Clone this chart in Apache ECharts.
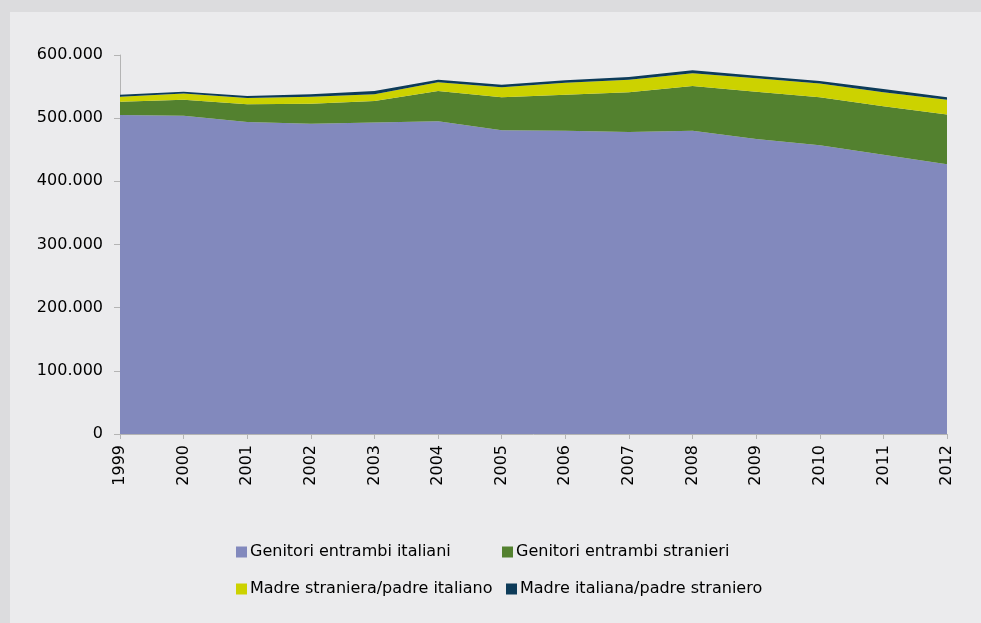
<!DOCTYPE html>
<html>
<head>
<meta charset="utf-8">
<script src="https://cdn.jsdelivr.net/npm/echarts@6/dist/echarts.min.js"></script>
<style>
html,body{margin:0;padding:0;background:#dcdcde;width:981px;height:623px;overflow:hidden;}
#panel{position:absolute;left:10px;top:12px;width:971px;height:611px;background:#ebebed;}
#chart{position:absolute;left:0;top:0;width:981px;height:623px;}
</style>
</head>
<body>
<div id="panel"></div>
<div id="chart"></div>
<script>
const years = ['1999','2000','2001','2002','2003','2004','2005','2006','2007','2008','2009','2010','2011','2012'];
const entrambiItaliani = [505000,504000,494000,491000,493000,495000,481000,480000,478000,480000,467000,457000,442000,427000];
const entrambiStranieri = [21000,25000,28000,32000,34000,48000,52000,57000,63000,71000,75000,76000,77000,79000];
const madreStraniera = [8000,10000,10000,11000,11000,14000,16000,19000,20000,20000,21000,22000,22000,23000];
const madreItaliana = [3000,3000,3000,4000,5000,4000,4000,4000,4000,5000,4000,4000,5000,4000];
const yTicks = [0,100000,200000,300000,400000,500000,600000];

const names = ['Genitori entrambi italiani','Genitori entrambi stranieri','Madre straniera/padre italiano','Madre italiana/padre straniero'];
const colors = ['#8289bd','#53812f','#ccd200','#0d3b59'];
const datas = [entrambiItaliani, entrambiStranieri, madreStraniera, madreItaliana];

function fmt(v){ return String(v).replace(/\B(?=(\d{3})+(?!\d))/g,'.'); }

const font = '"DejaVu Sans", "Liberation Sans", Arial, sans-serif';
const legendPos = [[236,544],[502,544],[236,581],[506,581]];

const chart = echarts.init(document.getElementById('chart'), null, {renderer:'canvas'});
chart.setOption({
  backgroundColor: 'transparent',
  animation: false,
  textStyle: {fontFamily: font},
  grid: {left:120, right:34, top:55, bottom:189, containLabel:false},
  legend: names.map((n,i) => ({
    data:[n], left:legendPos[i][0], top:legendPos[i][1], padding:0,
    itemWidth:11, itemHeight:11, icon:'rect',
    textStyle:{fontSize:16, color:'#000', fontFamily:font, padding:[0,0,0,-2]}
  })),
  xAxis: {
    type:'category', data: years, boundaryGap:false,
    axisLine:{show:true, lineStyle:{color:'#b4b4b4', width:1}},
    axisTick:{show:true, alignWithLabel:true, length:5, lineStyle:{color:'#b4b4b4'}},
    axisLabel:{rotate:90, fontSize:16, color:'#000', margin:11, fontFamily:font, interval:0}
  },
  yAxis: {
    type:'value', min:0, max:600000, interval:100000,
    splitLine:{show:false},
    axisLine:{show:true, lineStyle:{color:'#b4b4b4', width:1}},
    axisTick:{show:true, length:6, lineStyle:{color:'#b4b4b4'}},
    axisLabel:{fontSize:16, color:'#000', margin:17, fontFamily:font, formatter: v => yTicks.indexOf(v) >= 0 ? fmt(v) : ''}
  },
  series: datas.map((d,i) => ({
    name: names[i], type:'line', stack:'tot', data:d,
    showSymbol:false, symbol:'none',
    lineStyle:{width:0, color:colors[i]},
    itemStyle:{color:colors[i]},
    areaStyle:{color:colors[i], opacity:1}
  }))
});
</script>
</body>
</html>
